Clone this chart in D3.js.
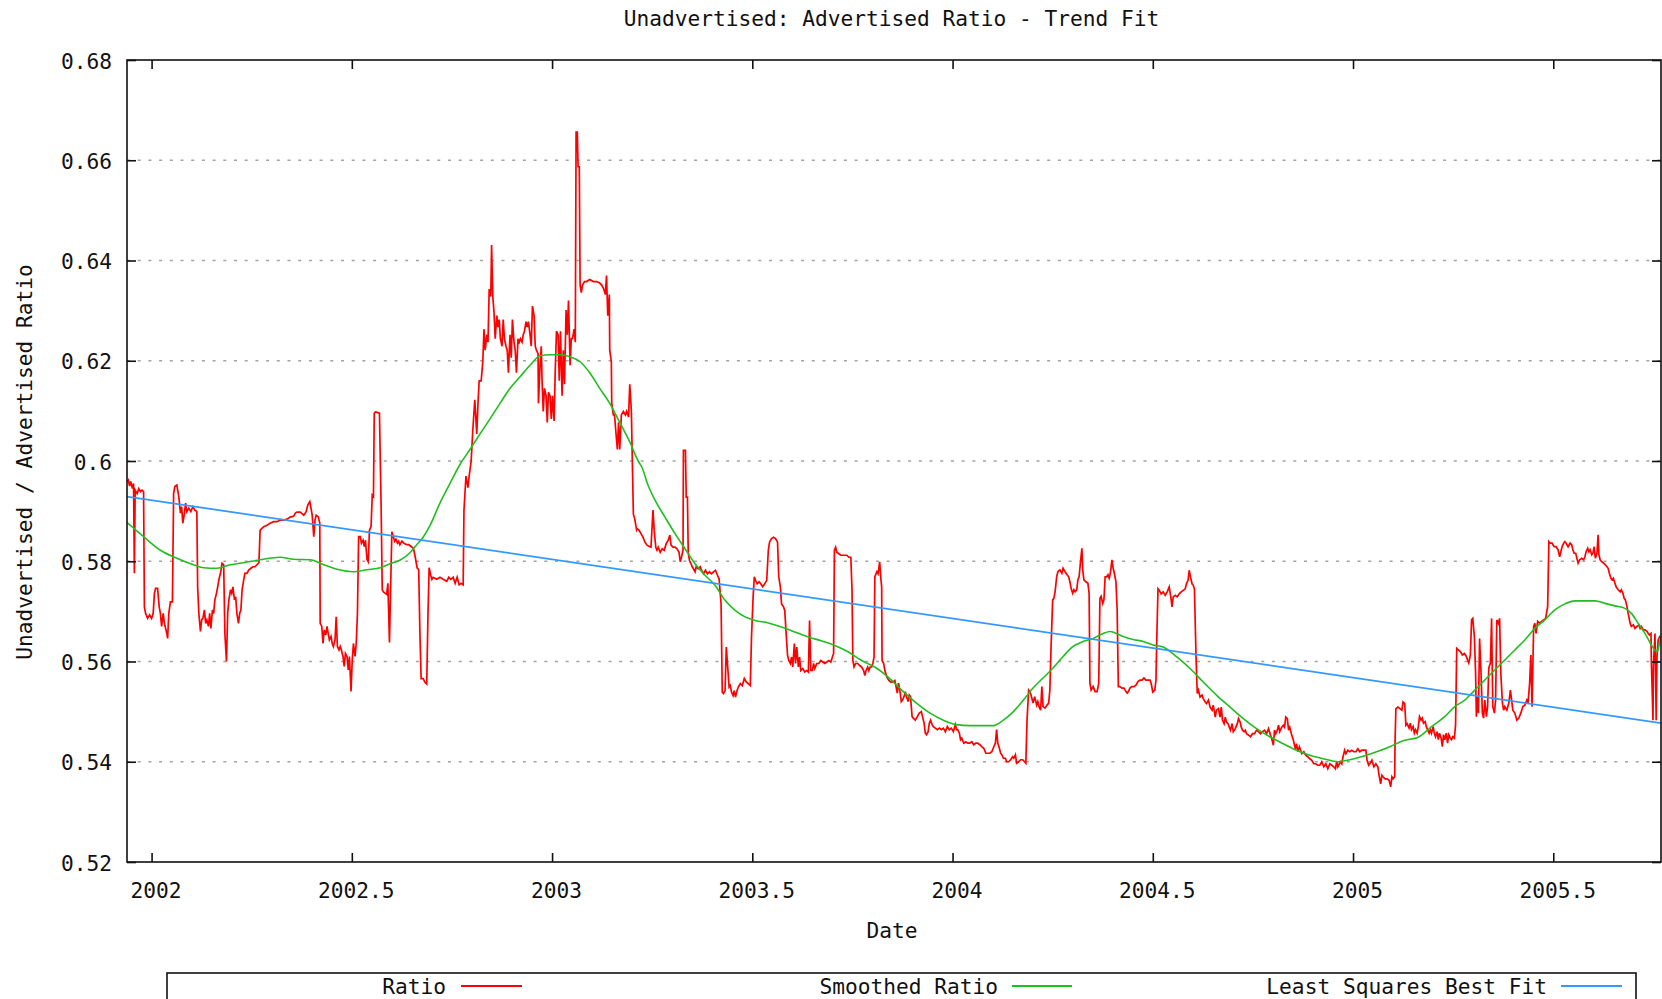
<!DOCTYPE html>
<html>
<head>
<meta charset="utf-8">
<script src="https://cdn.jsdelivr.net/npm/d3@7"></script>
<style>
  html, body { margin: 0; padding: 0; background: #ffffff; }
  svg { display: block; }
  text { font-family: "DejaVu Sans Mono", "Liberation Mono", monospace; font-size: 21.2px; fill: #111111; }
</style>
</head>
<body>
<svg id="chart" width="1662" height="999"></svg>
<script>
// ---- chart text ----
const titleText = "Unadvertised: Advertised Ratio - Trend Fit";
const xLabelText = "Date";
const yLabelText = "Unadvertised / Advertised Ratio";
const seriesNames = ["Ratio", "Smoothed Ratio", "Least Squares Best Fit"];

// ---- axes ----
const xDomain = [2001.9386, 2005.769];
const yDomain = [0.52, 0.68];
const xTicks = [2002, 2002.5, 2003, 2003.5, 2004, 2004.5, 2005, 2005.5];
const xTickLabels = ["2002", "2002.5", "2003", "2003.5", "2004", "2004.5", "2005", "2005.5"];
const yTicks = [0.52, 0.54, 0.56, 0.58, 0.60, 0.62, 0.64, 0.66, 0.68];
const yTickLabels = ["0.52", "0.54", "0.56", "0.58", "0.6", "0.62", "0.64", "0.66", "0.68"];

// ---- daily ratio [decimal year, ratio] ----
const ratioSeries = [
[2001.939,0.5959],[2001.942,0.5962],[2001.945,0.5950],[2001.948,0.5959],[2001.952,0.5945],[2001.955,0.5955],[2001.957,0.5776],[2001.959,0.5942],[2001.964,0.5935],[2001.968,0.5945],
[2001.972,0.5939],[2001.976,0.5942],[2001.980,0.5939],[2001.982,0.5709],[2001.985,0.5696],[2001.990,0.5686],[2001.995,0.5693],[2002.000,0.5686],[2002.004,0.5696],[2002.007,0.5736],
[2002.010,0.5746],[2002.015,0.5746],[2002.019,0.5709],[2002.022,0.5696],[2002.025,0.5670],[2002.029,0.5696],[2002.032,0.5676],[2002.035,0.5666],[2002.038,0.5656],[2002.040,0.5646],
[2002.043,0.5696],[2002.047,0.5719],[2002.052,0.5719],[2002.055,0.5935],[2002.058,0.5949],[2002.063,0.5952],[2002.068,0.5929],[2002.072,0.5896],[2002.075,0.5909],[2002.078,0.5876],
[2002.082,0.5896],[2002.085,0.5916],[2002.088,0.5899],[2002.093,0.5906],[2002.098,0.5899],[2002.103,0.5909],[2002.108,0.5902],[2002.113,0.5899],[2002.115,0.5749],[2002.118,0.5696],
[2002.122,0.5660],[2002.125,0.5683],[2002.128,0.5686],[2002.132,0.5703],[2002.135,0.5676],[2002.138,0.5683],[2002.142,0.5670],[2002.145,0.5696],[2002.148,0.5666],[2002.152,0.5703],
[2002.155,0.5696],[2002.158,0.5723],[2002.162,0.5736],[2002.165,0.5749],[2002.168,0.5763],[2002.172,0.5776],[2002.176,0.5796],[2002.180,0.5793],[2002.183,0.5656],[2002.187,0.5600],
[2002.190,0.5696],[2002.193,0.5723],[2002.197,0.5743],[2002.200,0.5736],[2002.203,0.5749],[2002.207,0.5723],[2002.210,0.5729],[2002.213,0.5696],[2002.217,0.5676],[2002.220,0.5696],
[2002.223,0.5703],[2002.226,0.5743],[2002.230,0.5763],[2002.233,0.5776],[2002.238,0.5776],[2002.243,0.5783],[2002.248,0.5786],[2002.253,0.5789],[2002.258,0.5789],[2002.263,0.5793],
[2002.268,0.5797],[2002.271,0.5862],[2002.276,0.5866],[2002.280,0.5869],[2002.288,0.5872],[2002.296,0.5876],[2002.305,0.5879],[2002.313,0.5879],[2002.321,0.5882],[2002.330,0.5882],
[2002.338,0.5884],[2002.346,0.5888],[2002.355,0.5890],[2002.359,0.5896],[2002.363,0.5898],[2002.371,0.5898],[2002.380,0.5892],[2002.386,0.5899],[2002.390,0.5912],[2002.395,0.5919],
[2002.398,0.5906],[2002.401,0.5892],[2002.405,0.5849],[2002.408,0.5882],[2002.411,0.5892],[2002.416,0.5889],[2002.420,0.5876],[2002.421,0.5676],[2002.425,0.5670],[2002.428,0.5636],
[2002.431,0.5663],[2002.435,0.5653],[2002.438,0.5670],[2002.441,0.5656],[2002.444,0.5643],[2002.448,0.5650],[2002.451,0.5636],[2002.454,0.5630],[2002.458,0.5643],[2002.461,0.5689],
[2002.464,0.5630],[2002.468,0.5623],[2002.471,0.5630],[2002.474,0.5623],[2002.478,0.5610],[2002.481,0.5590],[2002.484,0.5616],[2002.488,0.5610],[2002.491,0.5583],[2002.494,0.5610],
[2002.498,0.5540],[2002.501,0.5603],[2002.504,0.5636],[2002.508,0.5610],[2002.511,0.5636],[2002.514,0.5696],[2002.517,0.5849],[2002.521,0.5849],[2002.524,0.5836],[2002.528,0.5842],
[2002.531,0.5829],[2002.534,0.5842],[2002.538,0.5803],[2002.541,0.5799],[2002.544,0.5862],[2002.548,0.5869],[2002.551,0.5932],[2002.554,0.5929],[2002.556,0.6095],[2002.559,0.6098],
[2002.564,0.6097],[2002.569,0.6095],[2002.573,0.5916],[2002.576,0.5743],[2002.579,0.5739],
[2002.582,0.5737],[2002.587,0.5734],[2002.590,0.5756],[2002.594,0.5638],[2002.597,0.5753],[2002.600,0.5859],[2002.604,0.5848],[2002.607,0.5840],[2002.610,0.5844],[2002.614,0.5836],
[2002.617,0.5840],[2002.620,0.5833],[2002.625,0.5840],[2002.630,0.5836],[2002.637,0.5833],[2002.642,0.5833],[2002.649,0.5829],[2002.654,0.5825],[2002.658,0.5810],[2002.663,0.5787],
[2002.667,0.5783],[2002.670,0.5657],[2002.673,0.5566],[2002.678,0.5566],[2002.683,0.5558],[2002.687,0.5555],[2002.690,0.5688],[2002.693,0.5787],[2002.697,0.5772],[2002.700,0.5764],
[2002.703,0.5768],[2002.712,0.5764],[2002.720,0.5768],[2002.728,0.5764],[2002.737,0.5760],[2002.742,0.5768],[2002.747,0.5764],[2002.753,0.5768],[2002.758,0.5756],[2002.763,0.5768],
[2002.768,0.5753],[2002.773,0.5756],[2002.778,0.5753],[2002.780,0.5901],[2002.785,0.5970],[2002.790,0.5947],[2002.793,0.5970],[2002.798,0.6000],[2002.802,0.6061],[2002.807,0.6122],
[2002.812,0.6054],[2002.815,0.6115],[2002.818,0.6160],[2002.823,0.6160],[2002.827,0.6198],[2002.830,0.6263],[2002.833,0.6221],[2002.837,0.6252],[2002.840,0.6237],[2002.843,0.6343],
[2002.847,0.6328],[2002.849,0.6431],[2002.852,0.6328],[2002.855,0.6297],[2002.858,0.6244],[2002.862,0.6290],[2002.865,0.6267],[2002.868,0.6282],[2002.871,0.6244],[2002.875,0.6229],
[2002.878,0.6282],[2002.881,0.6244],[2002.885,0.6229],[2002.888,0.6221],[2002.891,0.6176],[2002.895,0.6252],[2002.898,0.6206],[2002.901,0.6282],[2002.905,0.6237],[2002.908,0.6221],
[2002.911,0.6176],[2002.915,0.6244],[2002.918,0.6237],[2002.921,0.6244],[2002.925,0.6237],[2002.928,0.6252],[2002.931,0.6259],[2002.935,0.6278],[2002.938,0.6267],[2002.941,0.6278],
[2002.945,0.6252],[2002.948,0.6229],[2002.951,0.6309],[2002.955,0.6290],[2002.958,0.6229],[2002.961,0.6221],[2002.965,0.6214],[2002.966,0.6115],[2002.970,0.6191],[2002.973,0.6229],
[2002.975,0.6160],[2002.978,0.6099],[2002.981,0.6145],[2002.985,0.6130],[2002.988,0.6077],[2002.991,0.6137],[2002.995,0.6130],[2002.998,0.6084],[2003.001,0.6130],[2003.005,0.6080],
[2003.008,0.6183],[2003.011,0.6259],[2003.015,0.6252],[2003.018,0.6160],[2003.021,0.6259],[2003.025,0.6130],[2003.028,0.6221],[2003.031,0.6153],[2003.035,0.6301],[2003.038,0.6252],
[2003.041,0.6320],[2003.045,0.6191],[2003.048,0.6244],[2003.051,0.6244],[2003.055,0.6263],[2003.058,0.6237],[2003.060,0.6656],[2003.063,0.6656],[2003.065,0.6587],[2003.068,0.6587],
[2003.070,0.6351],[2003.073,0.6336],[2003.076,0.6351],[2003.081,0.6358],[2003.086,0.6358],[2003.094,0.6362],[2003.103,0.6358],[2003.111,0.6358],[2003.119,0.6355],[2003.124,0.6351],
[2003.129,0.6343],[2003.133,0.6332],[2003.136,0.6370],[2003.139,0.6290],[2003.143,0.6332],[2003.144,0.6221],[2003.148,0.6198],[2003.149,0.6115],[2003.153,0.6092],[2003.156,0.6092],
[2003.159,0.6061],[2003.163,0.6023],[2003.166,0.6077],[2003.169,0.6023],[2003.173,0.6092],[2003.178,0.6099],[2003.183,0.6092],[2003.186,0.6099],[2003.191,0.6088],[2003.194,0.6153],
[2003.198,0.6099],[2003.203,0.5894],[2003.206,0.5886],[2003.211,0.5863],
[2003.212,0.5865],[2003.217,0.5862],[2003.222,0.5855],[2003.227,0.5848],[2003.232,0.5838],[2003.237,0.5832],[2003.242,0.5830],[2003.247,0.5828],[2003.252,0.5902],[2003.255,0.5862],
[2003.259,0.5828],[2003.262,0.5822],[2003.265,0.5828],[2003.270,0.5818],[2003.275,0.5825],[2003.280,0.5822],[2003.285,0.5835],[2003.290,0.5842],[2003.294,0.5852],[2003.297,0.5832],
[2003.302,0.5828],[2003.307,0.5828],[2003.312,0.5825],[2003.317,0.5818],[2003.320,0.5799],[2003.323,0.5808],[2003.327,0.5822],[2003.328,0.6021],[2003.333,0.6021],[2003.335,0.5928],
[2003.338,0.5928],[2003.340,0.5818],[2003.343,0.5802],[2003.347,0.5795],[2003.350,0.5789],[2003.353,0.5785],[2003.357,0.5779],[2003.360,0.5789],[2003.365,0.5785],[2003.370,0.5789],
[2003.373,0.5782],[2003.378,0.5775],[2003.383,0.5782],[2003.388,0.5775],[2003.393,0.5779],[2003.398,0.5775],[2003.403,0.5779],[2003.408,0.5782],[2003.413,0.5772],[2003.417,0.5765],
[2003.422,0.5715],[2003.425,0.5539],[2003.428,0.5536],[2003.432,0.5542],[2003.435,0.5629],[2003.438,0.5596],[2003.442,0.5549],[2003.445,0.5552],[2003.448,0.5539],[2003.452,0.5532],
[2003.455,0.5542],[2003.458,0.5529],[2003.462,0.5542],[2003.465,0.5549],[2003.470,0.5556],[2003.475,0.5552],[2003.480,0.5566],[2003.485,0.5559],[2003.490,0.5556],[2003.495,0.5552],
[2003.498,0.5649],[2003.502,0.5729],[2003.505,0.5769],[2003.508,0.5762],[2003.512,0.5755],[2003.517,0.5759],[2003.521,0.5755],[2003.526,0.5749],[2003.531,0.5755],[2003.536,0.5762],
[2003.540,0.5822],[2003.543,0.5838],[2003.548,0.5845],[2003.553,0.5848],[2003.558,0.5845],[2003.563,0.5838],[2003.566,0.5769],[2003.570,0.5749],[2003.573,0.5715],[2003.578,0.5709],
[2003.581,0.5702],[2003.585,0.5649],[2003.588,0.5612],[2003.591,0.5602],[2003.595,0.5596],[2003.598,0.5609],[2003.601,0.5589],[2003.605,0.5636],[2003.608,0.5596],[2003.611,0.5629],
[2003.615,0.5589],[2003.618,0.5609],[2003.621,0.5582],[2003.626,0.5586],[2003.631,0.5579],[2003.636,0.5582],[2003.640,0.5579],[2003.643,0.5682],[2003.646,0.5582],[2003.650,0.5582],
[2003.653,0.5596],[2003.656,0.5586],[2003.661,0.5596],[2003.666,0.5596],[2003.671,0.5602],[2003.676,0.5599],[2003.681,0.5596],[2003.686,0.5599],[2003.691,0.5602],[2003.696,0.5599],
[2003.700,0.5609],[2003.703,0.5616],[2003.705,0.5822],[2003.708,0.5828],[2003.711,0.5818],[2003.716,0.5815],[2003.721,0.5812],[2003.726,0.5812],[2003.731,0.5812],[2003.736,0.5812],
[2003.741,0.5808],[2003.746,0.5808],[2003.749,0.5742],[2003.751,0.5602],[2003.754,0.5589],[2003.758,0.5596],[2003.763,0.5596],[2003.768,0.5592],[2003.773,0.5589],[2003.778,0.5582],
[2003.781,0.5572],[2003.784,0.5582],[2003.788,0.5589],[2003.791,0.5582],[2003.794,0.5589],[2003.798,0.5589],[2003.801,0.5596],[2003.804,0.5609],[2003.806,0.5769],[2003.811,0.5779],
[2003.814,0.5775],[2003.818,0.5799],[2003.821,0.5765],[2003.823,0.5749],[2003.824,0.5602],[2003.828,0.5596],[2003.831,0.5582],[2003.836,0.5569],[2003.841,0.5562],[2003.846,0.5559],
[2003.851,0.5559],[2003.856,0.5562],
[2003.862,0.5537],[2003.865,0.5557],[2003.869,0.5540],[2003.872,0.5520],[2003.875,0.5523],[2003.879,0.5530],[2003.882,0.5540],[2003.885,0.5530],[2003.889,0.5520],[2003.892,0.5533],
[2003.895,0.5530],[2003.899,0.5490],[2003.902,0.5487],[2003.907,0.5483],[2003.912,0.5490],[2003.917,0.5497],[2003.922,0.5500],[2003.925,0.5490],[2003.929,0.5477],[2003.932,0.5457],
[2003.935,0.5454],[2003.939,0.5460],[2003.942,0.5477],[2003.945,0.5483],[2003.949,0.5474],[2003.952,0.5470],[2003.957,0.5467],[2003.962,0.5464],[2003.967,0.5467],[2003.972,0.5464],
[2003.977,0.5467],[2003.982,0.5460],[2003.987,0.5470],[2003.992,0.5464],[2003.997,0.5467],[2004.002,0.5460],[2004.007,0.5474],[2004.010,0.5464],[2004.013,0.5464],[2004.017,0.5457],
[2004.020,0.5444],[2004.023,0.5447],[2004.028,0.5437],[2004.033,0.5440],[2004.038,0.5437],[2004.043,0.5437],[2004.048,0.5440],[2004.053,0.5434],[2004.058,0.5437],[2004.063,0.5437],
[2004.068,0.5434],[2004.073,0.5430],[2004.078,0.5427],[2004.083,0.5417],[2004.088,0.5417],[2004.093,0.5417],[2004.098,0.5420],[2004.103,0.5430],[2004.107,0.5437],[2004.110,0.5464],
[2004.113,0.5437],[2004.117,0.5427],[2004.120,0.5417],[2004.123,0.5414],[2004.127,0.5407],[2004.132,0.5407],[2004.135,0.5400],[2004.140,0.5400],[2004.145,0.5404],[2004.150,0.5410],
[2004.153,0.5407],[2004.157,0.5414],[2004.160,0.5397],[2004.165,0.5400],[2004.170,0.5404],[2004.175,0.5404],[2004.180,0.5400],[2004.183,0.5397],[2004.186,0.5483],[2004.190,0.5543],
[2004.193,0.5540],[2004.196,0.5533],[2004.201,0.5517],[2004.205,0.5530],[2004.210,0.5513],[2004.213,0.5520],[2004.216,0.5510],[2004.220,0.5503],[2004.223,0.5550],[2004.226,0.5510],
[2004.231,0.5507],[2004.236,0.5513],[2004.240,0.5517],[2004.243,0.5543],[2004.246,0.5630],[2004.250,0.5723],[2004.253,0.5726],[2004.256,0.5739],[2004.260,0.5769],[2004.263,0.5779],
[2004.268,0.5783],[2004.273,0.5776],[2004.276,0.5786],[2004.281,0.5779],[2004.286,0.5773],[2004.290,0.5769],[2004.293,0.5759],[2004.296,0.5746],[2004.300,0.5736],[2004.303,0.5743],
[2004.306,0.5739],[2004.310,0.5743],[2004.313,0.5763],[2004.316,0.5769],[2004.320,0.5803],[2004.323,0.5826],[2004.325,0.5783],[2004.328,0.5763],[2004.333,0.5759],[2004.338,0.5756],
[2004.341,0.5736],[2004.343,0.5557],[2004.346,0.5543],[2004.351,0.5550],[2004.356,0.5540],[2004.361,0.5540],[2004.365,0.5557],[2004.368,0.5726],[2004.371,0.5730],[2004.375,0.5716],
[2004.378,0.5723],[2004.381,0.5769],[2004.385,0.5769],[2004.388,0.5773],[2004.391,0.5766],[2004.394,0.5776],[2004.398,0.5803],[2004.401,0.5786],[2004.404,0.5776],[2004.408,0.5759],
[2004.411,0.5703],[2004.414,0.5550],[2004.418,0.5550],[2004.423,0.5547],[2004.428,0.5547],[2004.433,0.5540],[2004.436,0.5537],[2004.439,0.5540],[2004.443,0.5547],[2004.448,0.5550],
[2004.453,0.5550],[2004.458,0.5553],[2004.463,0.5560],[2004.468,0.5563],[2004.473,0.5563],[2004.478,0.5567],[2004.483,0.5563],[2004.488,0.5563],
[2004.493,0.5563],[2004.496,0.5556],[2004.500,0.5539],[2004.505,0.5543],[2004.508,0.5563],[2004.510,0.5646],[2004.513,0.5745],[2004.516,0.5742],[2004.521,0.5735],[2004.526,0.5739],
[2004.531,0.5732],[2004.536,0.5739],[2004.541,0.5749],[2004.545,0.5729],[2004.548,0.5709],[2004.551,0.5729],[2004.556,0.5732],[2004.561,0.5729],[2004.566,0.5735],[2004.571,0.5739],
[2004.576,0.5742],[2004.581,0.5745],[2004.584,0.5755],[2004.588,0.5762],[2004.591,0.5782],[2004.594,0.5769],[2004.598,0.5755],[2004.601,0.5752],[2004.604,0.5745],[2004.608,0.5609],
[2004.611,0.5536],[2004.614,0.5543],[2004.618,0.5529],[2004.623,0.5533],[2004.626,0.5526],[2004.631,0.5519],[2004.634,0.5516],[2004.639,0.5523],[2004.643,0.5509],[2004.648,0.5503],
[2004.651,0.5513],[2004.656,0.5489],[2004.659,0.5503],[2004.664,0.5506],[2004.668,0.5489],[2004.671,0.5509],[2004.674,0.5483],[2004.678,0.5476],[2004.681,0.5489],[2004.684,0.5479],
[2004.688,0.5476],[2004.691,0.5469],[2004.694,0.5463],[2004.698,0.5476],[2004.701,0.5460],[2004.706,0.5466],[2004.711,0.5476],[2004.714,0.5486],[2004.718,0.5479],[2004.721,0.5469],
[2004.724,0.5463],[2004.728,0.5460],[2004.731,0.5463],[2004.734,0.5456],[2004.739,0.5453],[2004.744,0.5450],[2004.749,0.5456],[2004.754,0.5456],[2004.759,0.5463],[2004.764,0.5460],
[2004.769,0.5456],[2004.774,0.5460],[2004.779,0.5463],[2004.784,0.5456],[2004.789,0.5466],[2004.794,0.5453],[2004.797,0.5446],[2004.801,0.5433],[2004.804,0.5463],[2004.807,0.5456],
[2004.811,0.5463],[2004.814,0.5473],[2004.817,0.5460],[2004.822,0.5469],[2004.826,0.5473],[2004.829,0.5469],[2004.832,0.5489],[2004.836,0.5486],[2004.839,0.5463],[2004.842,0.5469],
[2004.846,0.5456],[2004.851,0.5443],[2004.856,0.5426],[2004.859,0.5436],[2004.862,0.5420],[2004.866,0.5430],[2004.869,0.5423],[2004.872,0.5416],[2004.877,0.5420],[2004.882,0.5413],
[2004.887,0.5410],[2004.892,0.5406],[2004.897,0.5403],[2004.902,0.5396],[2004.907,0.5396],[2004.912,0.5393],[2004.917,0.5393],[2004.922,0.5400],[2004.927,0.5390],[2004.932,0.5396],
[2004.937,0.5386],[2004.942,0.5396],[2004.947,0.5393],[2004.952,0.5390],[2004.956,0.5386],[2004.959,0.5400],[2004.962,0.5390],[2004.966,0.5396],[2004.969,0.5400],[2004.972,0.5396],
[2004.975,0.5410],[2004.979,0.5423],[2004.982,0.5416],[2004.987,0.5423],[2004.992,0.5420],[2004.997,0.5423],[2005.002,0.5420],[2005.007,0.5420],[2005.012,0.5426],[2005.017,0.5420],
[2005.022,0.5423],[2005.027,0.5423],[2005.032,0.5423],[2005.035,0.5403],[2005.039,0.5393],[2005.042,0.5396],[2005.047,0.5403],[2005.052,0.5390],[2005.057,0.5396],[2005.062,0.5390],
[2005.065,0.5373],[2005.069,0.5356],[2005.072,0.5373],[2005.075,0.5370],[2005.080,0.5366],[2005.085,0.5366],[2005.090,0.5363],[2005.094,0.5350],[2005.097,0.5370],[2005.100,0.5366],
[2005.104,0.5370],[2005.105,0.5443],[2005.107,0.5506],[2005.112,0.5509],[2005.117,0.5506],[2005.122,0.5503],[2005.125,0.5519],[2005.129,0.5516],[2005.132,0.5473],[2005.135,0.5476],
[2005.140,0.5467],[2005.143,0.5477],[2005.146,0.5464],[2005.150,0.5470],[2005.153,0.5457],[2005.156,0.5464],[2005.160,0.5457],[2005.163,0.5470],[2005.166,0.5490],[2005.170,0.5483],
[2005.173,0.5487],[2005.176,0.5477],[2005.180,0.5480],[2005.183,0.5470],[2005.186,0.5464],[2005.190,0.5457],[2005.193,0.5464],[2005.196,0.5457],[2005.200,0.5470],[2005.203,0.5457],
[2005.206,0.5450],[2005.210,0.5460],[2005.213,0.5444],[2005.216,0.5457],[2005.220,0.5447],[2005.223,0.5430],[2005.226,0.5454],[2005.229,0.5444],[2005.233,0.5457],[2005.236,0.5437],
[2005.239,0.5454],[2005.243,0.5447],[2005.246,0.5444],[2005.249,0.5450],[2005.253,0.5447],[2005.256,0.5473],[2005.259,0.5626],[2005.263,0.5623],[2005.268,0.5620],[2005.273,0.5613],
[2005.278,0.5616],[2005.283,0.5610],[2005.286,0.5603],[2005.289,0.5597],[2005.293,0.5613],[2005.296,0.5683],[2005.299,0.5686],[2005.303,0.5650],[2005.306,0.5577],[2005.308,0.5490],
[2005.309,0.5530],[2005.313,0.5497],[2005.316,0.5646],[2005.319,0.5590],[2005.323,0.5497],[2005.326,0.5487],[2005.329,0.5523],[2005.333,0.5490],[2005.336,0.5510],[2005.339,0.5587],
[2005.343,0.5597],[2005.346,0.5686],[2005.349,0.5510],[2005.353,0.5497],[2005.356,0.5523],[2005.359,0.5683],[2005.363,0.5676],[2005.366,0.5686],[2005.369,0.5577],[2005.373,0.5517],
[2005.376,0.5503],[2005.379,0.5510],[2005.384,0.5503],[2005.389,0.5517],[2005.393,0.5543],[2005.396,0.5523],[2005.399,0.5503],[2005.404,0.5497],[2005.409,0.5483],[2005.414,0.5487],
[2005.419,0.5497],[2005.424,0.5510],[2005.429,0.5513],[2005.434,0.5523],[2005.437,0.5517],[2005.441,0.5557],[2005.444,0.5613],[2005.447,0.5510],[2005.451,0.5670],[2005.454,0.5676],
[2005.457,0.5656],[2005.461,0.5680],[2005.466,0.5676],[2005.471,0.5680],[2005.476,0.5683],[2005.481,0.5686],[2005.486,0.5710],[2005.489,0.5839],[2005.492,0.5836],[2005.497,0.5836],
[2005.502,0.5829],[2005.507,0.5829],[2005.512,0.5823],[2005.516,0.5809],[2005.519,0.5819],[2005.522,0.5829],[2005.526,0.5836],[2005.529,0.5839],[2005.532,0.5836],[2005.537,0.5829],
[2005.542,0.5836],[2005.546,0.5833],[2005.549,0.5823],[2005.552,0.5816],[2005.556,0.5816],[2005.559,0.5806],[2005.562,0.5796],[2005.566,0.5803],[2005.571,0.5806],[2005.576,0.5803],
[2005.579,0.5809],[2005.582,0.5819],[2005.586,0.5826],[2005.589,0.5819],[2005.592,0.5823],[2005.596,0.5813],[2005.599,0.5816],[2005.602,0.5829],[2005.605,0.5806],[2005.609,0.5816],
[2005.612,0.5853],[2005.614,0.5813],[2005.617,0.5803],[2005.621,0.5799],[2005.626,0.5796],[2005.630,0.5793],[2005.634,0.5789],[2005.637,0.5786],[2005.640,0.5776],[2005.644,0.5766],
[2005.647,0.5763],[2005.650,0.5766],[2005.654,0.5756],[2005.657,0.5749],[2005.662,0.5743],[2005.667,0.5739],[2005.670,0.5743],[2005.674,0.5736],[2005.677,0.5726],[2005.680,0.5723],
[2005.684,0.5710],[2005.687,0.5696],[2005.692,0.5676],[2005.695,0.5670],[2005.700,0.5673],[2005.704,0.5666],[2005.709,0.5670],[2005.714,0.5673],[2005.717,0.5666],[2005.720,0.5670],
[2005.725,0.5663],[2005.729,0.5663],[2005.734,0.5660],[2005.737,0.5656],[2005.740,0.5653],[2005.744,0.5656],[2005.745,0.5597],[2005.749,0.5483],[2005.750,0.5590],[2005.754,0.5656],
[2005.757,0.5483],[2005.759,0.5610],[2005.762,0.5643],[2005.766,0.5650],[2005.770,0.5650]
];

// ---- smoothed ratio [decimal year, ratio] ----
const smoothSeries = [
[2001.939,0.5877],[2001.980,0.5849],[2002.022,0.5822],[2002.063,0.5806],[2002.105,0.5793],[2002.130,0.5787],[2002.163,0.5786],[2002.197,0.5793],[2002.230,0.5797],[2002.271,0.5803],
[2002.321,0.5808],[2002.355,0.5804],[2002.396,0.5803],[2002.430,0.5793],[2002.463,0.5784],[2002.504,0.5779],[2002.538,0.5783],[2002.571,0.5787],[2002.595,0.5795],[2002.620,0.5802],
[2002.645,0.5817],[2002.662,0.5833],[2002.678,0.5848],[2002.695,0.5871],[2002.720,0.5916],[2002.745,0.5955],[2002.770,0.5993],[2002.795,0.6023],[2002.820,0.6054],[2002.845,0.6084],
[2002.870,0.6115],[2002.895,0.6145],[2002.920,0.6168],[2002.945,0.6191],[2002.970,0.6210],[2002.995,0.6212],[2003.020,0.6212],[2003.045,0.6208],[2003.070,0.6198],[2003.094,0.6176],
[2003.119,0.6145],[2003.144,0.6115],[2003.169,0.6077],[2003.194,0.6038],[2003.215,0.6000],[2003.224,0.5988],[2003.240,0.5951],[2003.257,0.5922],[2003.282,0.5888],[2003.307,0.5855],
[2003.332,0.5825],[2003.357,0.5795],[2003.382,0.5772],[2003.407,0.5752],[2003.432,0.5722],[2003.457,0.5702],[2003.482,0.5689],[2003.507,0.5682],[2003.540,0.5677],[2003.573,0.5669],
[2003.606,0.5659],[2003.640,0.5649],[2003.673,0.5641],[2003.706,0.5632],[2003.740,0.5619],[2003.773,0.5602],[2003.806,0.5589],[2003.839,0.5569],[2003.877,0.5540],[2003.910,0.5517],
[2003.944,0.5497],[2003.977,0.5483],[2004.010,0.5474],[2004.043,0.5472],[2004.077,0.5472],[2004.102,0.5472],[2004.127,0.5483],[2004.152,0.5500],[2004.177,0.5523],[2004.201,0.5547],
[2004.226,0.5567],[2004.251,0.5587],[2004.276,0.5610],[2004.301,0.5630],[2004.326,0.5640],[2004.351,0.5646],[2004.376,0.5656],[2004.393,0.5660],[2004.409,0.5656],[2004.426,0.5650],
[2004.451,0.5644],[2004.476,0.5640],[2004.501,0.5633],[2004.526,0.5629],[2004.560,0.5609],[2004.593,0.5586],[2004.626,0.5559],[2004.659,0.5533],[2004.693,0.5509],[2004.726,0.5486],
[2004.759,0.5466],[2004.792,0.5450],[2004.826,0.5436],[2004.859,0.5423],[2004.892,0.5413],[2004.926,0.5406],[2004.963,0.5400],[2004.992,0.5404],[2005.025,0.5411],[2005.059,0.5420],
[2005.092,0.5430],[2005.125,0.5442],[2005.163,0.5449],[2005.196,0.5470],[2005.229,0.5490],[2005.254,0.5510],[2005.279,0.5523],[2005.304,0.5543],[2005.329,0.5563],[2005.354,0.5583],
[2005.379,0.5603],[2005.404,0.5623],[2005.429,0.5643],[2005.454,0.5666],[2005.479,0.5683],[2005.504,0.5703],[2005.529,0.5715],[2005.554,0.5721],[2005.579,0.5721],[2005.604,0.5721],
[2005.629,0.5716],[2005.654,0.5711],[2005.679,0.5706],[2005.695,0.5696],[2005.712,0.5676],[2005.729,0.5656],[2005.745,0.5633],[2005.754,0.5622],[2005.760,0.5620],[2005.765,0.5636],
[2005.769,0.5650]
];

// ---- least squares line end points [decimal year, ratio] ----
const fitSeries = [[2001.9386, 0.5929], [2005.769, 0.5477]];

// ---- layout ----
const W = 1662, H = 999;
const plot = { left: 127, right: 1661, top: 60, bottom: 862 };
const colors = { ratio: "#ff0000", smooth: "#1fbf1f", fit: "#3399ff", grid: "#a3a3a3", ink: "#111111" };

const svg = d3.select("#chart");

const x = d3.scaleLinear().domain(xDomain).range([plot.left, plot.right]);
const y = d3.scaleLinear().domain(yDomain).range([plot.bottom, plot.top]);

// clip for the data lines
svg.append("defs").append("clipPath").attr("id", "plotClip")
  .append("rect")
  .attr("x", plot.left).attr("y", plot.top)
  .attr("width", plot.right - plot.left).attr("height", plot.bottom - plot.top);

// horizontal dotted grid
svg.append("g").selectAll("line")
  .data(yTicks.filter(v => v > yDomain[0] + 1e-9 && v < yDomain[1] - 1e-9))
  .join("line")
  .attr("x1", plot.left).attr("x2", plot.right)
  .attr("y1", d => y(d)).attr("y2", d => y(d))
  .attr("stroke", colors.grid)
  .attr("stroke-width", 1.5)
  .attr("stroke-dasharray", "3,7.7");

// data lines
const lineGen = d3.line().x(d => x(d[0])).y(d => y(d[1]));
const smoothGen = d3.line().x(d => x(d[0])).y(d => y(d[1])).curve(d3.curveMonotoneX);
const lines = svg.append("g").attr("clip-path", "url(#plotClip)").attr("fill", "none");
lines.append("path").datum(ratioSeries).attr("d", lineGen)
  .attr("stroke", colors.ratio).attr("stroke-width", 1.7).attr("stroke-linejoin", "miter");
lines.append("path").datum(smoothSeries).attr("d", smoothGen)
  .attr("stroke", colors.smooth).attr("stroke-width", 1.6);
lines.append("path").datum(fitSeries).attr("d", lineGen)
  .attr("stroke", colors.fit).attr("stroke-width", 1.8);

// axes with inward ticks on all four sides
const tickLen = 9;
function styleAxis(g) {
  g.select(".domain").remove();
  g.selectAll(".tick line").attr("stroke", colors.ink).attr("stroke-width", 1.6);
  g.selectAll(".tick text")
    .attr("fill", colors.ink)
    .style("font-family", '"DejaVu Sans Mono", "Liberation Mono", monospace')
    .style("font-size", "21.2px");
}

svg.append("g")
  .attr("transform", `translate(0,${plot.bottom})`)
  .call(d3.axisBottom(x).tickValues(xTicks).tickFormat((d, i) => xTickLabels[i])
        .tickSizeInner(-tickLen).tickSizeOuter(0).tickPadding(21))
  .call(styleAxis)
  .call(g => g.selectAll(".tick text").attr("dx", 4));

svg.append("g")
  .attr("transform", `translate(0,${plot.top})`)
  .call(d3.axisTop(x).tickValues(xTicks).tickFormat("")
        .tickSizeInner(-tickLen).tickSizeOuter(0))
  .call(styleAxis);

svg.append("g")
  .attr("transform", `translate(${plot.left},0)`)
  .call(d3.axisLeft(y).tickValues(yTicks).tickFormat((d, i) => yTickLabels[i])
        .tickSizeInner(-tickLen).tickSizeOuter(0).tickPadding(15))
  .call(styleAxis)
  .call(g => g.selectAll(".tick text").attr("dy", "8px"));

svg.append("g")
  .attr("transform", `translate(${plot.right},0)`)
  .call(d3.axisRight(y).tickValues(yTicks).tickFormat("")
        .tickSizeInner(-tickLen).tickSizeOuter(0))
  .call(styleAxis);

// plot border
svg.append("rect")
  .attr("x", plot.left).attr("y", plot.top)
  .attr("width", plot.right - plot.left).attr("height", plot.bottom - plot.top)
  .attr("fill", "none").attr("stroke", colors.ink).attr("stroke-width", 1.6);

// titles
svg.append("text").attr("x", 891.5).attr("y", 26).attr("text-anchor", "middle").text(titleText);
svg.append("text").attr("x", 892).attr("y", 938).attr("text-anchor", "middle").text(xLabelText);
svg.append("text")
  .attr("transform", "translate(32,462) rotate(-90)")
  .attr("text-anchor", "middle").text(yLabelText);

// legend
const legend = svg.append("g");
legend.append("rect")
  .attr("x", 167).attr("y", 973).attr("width", 1469).attr("height", 60)
  .attr("fill", "none").attr("stroke", colors.ink).attr("stroke-width", 1.6);
const legendItems = [
  { name: seriesNames[0], color: colors.ratio, textEnd: 446, x1: 461, x2: 522 },
  { name: seriesNames[1], color: colors.smooth, textEnd: 998, x1: 1012, x2: 1072 },
  { name: seriesNames[2], color: colors.fit, textEnd: 1547, x1: 1561, x2: 1622 }
];
const li = legend.selectAll("g.item").data(legendItems).join("g").attr("class", "item");
li.append("text").attr("x", d => d.textEnd).attr("y", 994).attr("text-anchor", "end").text(d => d.name);
li.append("line").attr("x1", d => d.x1).attr("x2", d => d.x2).attr("y1", 986).attr("y2", 986)
  .attr("stroke", d => d.color).attr("stroke-width", 2.2);
</script>
</body>
</html>
